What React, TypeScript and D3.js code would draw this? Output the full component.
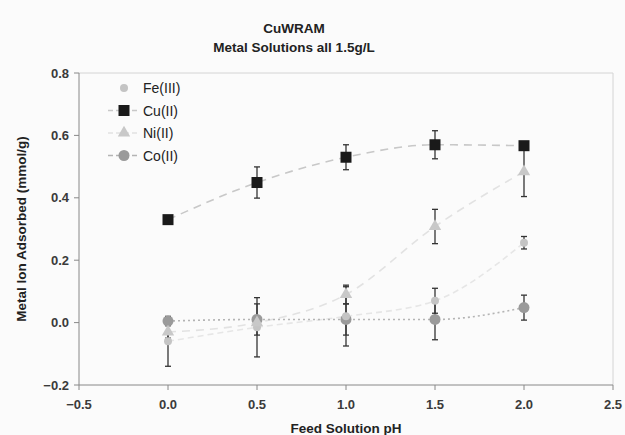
import React from "react"
import * as d3 from "d3"

// pH values along the x axis
const phValues = [0, 0.5, 1.0, 1.5, 2.0]

// adsorbed mmol/g, mean and error half-width
const feMean = [-0.06, -0.015, 0.02, 0.07, 0.256]
const feErr = [0.08, 0.095, 0.095, 0.04, 0.02]
const cuMean = [0.33, 0.449, 0.53, 0.57, 0.567]
const cuErr = [0.01, 0.05, 0.04, 0.045, 0.01]
const niMean = [-0.03, 0.0, 0.09, 0.308, 0.484]
const niErr = [0.02, 0.02, 0.03, 0.055, 0.08]
const coMean = [0.005, 0.01, 0.01, 0.01, 0.048]
const coErr = [0.01, 0.05, 0.05, 0.065, 0.04]

const xTicks = [-0.5, 0, 0.5, 1.0, 1.5, 2.0, 2.5]
const yTicks = [-0.2, 0, 0.2, 0.4, 0.6, 0.8]

const W = 625
const H = 435
const left = 79
const right = 613
const top = 73
const bottom = 385
const font = "'Liberation Sans', Arial, sans-serif"

const x = d3.scaleLinear().domain([-0.5, 2.5]).range([left, right])
const y = d3.scaleLinear().domain([-0.2, 0.8]).range([bottom, top])

const series = [
  { name: "Fe(III)", mean: feMean, err: feErr, shape: "circle", r: 4, fill: "#c4c4c4", line: "#e6e6e6", dash: "6,4", showLine: false },
  { name: "Cu(II)", mean: cuMean, err: cuErr, shape: "square", r: 5.5, fill: "#1a1a1a", line: "#c8c8c8", dash: "8,6", showLine: true },
  { name: "Ni(II)", mean: niMean, err: niErr, shape: "triangle", r: 5.5, fill: "#c8c8c8", line: "#e2e2e2", dash: "8,6", showLine: true },
  { name: "Co(II)", mean: coMean, err: coErr, shape: "circle", r: 5.5, fill: "#9a9a9a", line: "#b4b4b4", dash: "2,3", showLine: true },
]

function Marker({ shape, cx, cy, r, fill }) {
  if (shape === "square")
    return <rect x={cx - r} y={cy - r} width={2 * r} height={2 * r} fill={fill} />
  if (shape === "triangle") {
    const p = d3.symbol(d3.symbolTriangle, r * r * 2.2)()
    return <path d={p} transform={`translate(${cx},${cy})`} fill={fill} />
  }
  return <circle cx={cx} cy={cy} r={r} fill={fill} />
}

export default function App() {
  const line = d3
    .line<number>()
    .x((_, i) => x(phValues[i]))
    .y(d => y(d))
    .curve(d3.curveMonotoneX)

  return (
    <svg
      width={W}
      height={H}
      style={{ position: "absolute", left: 0, top: 0, background: "#fbfbfb" }}
      fontFamily={font}
    >
      <text x={294} y={33} textAnchor="middle" fontSize={13.5} fontWeight="bold" fill="#222">
        CuWRAM
      </text>
      <text x={294} y={52} textAnchor="middle" fontSize={13.5} fontWeight="bold" fill="#222">
        Metal Solutions all 1.5g/L
      </text>

      {/* frame */}
      <line x1={left} x2={right} y1={top} y2={top} stroke="#d4d4d4" />
      <line x1={right} x2={right} y1={top} y2={bottom} stroke="#d4d4d4" />
      <line x1={left} x2={left} y1={top} y2={bottom} stroke="#888" />
      <line x1={left} x2={right} y1={bottom} y2={bottom} stroke="#888" />

      {yTicks.map(t => (
        <g key={t}>
          <line x1={left - 5} x2={left} y1={y(t)} y2={y(t)} stroke="#888" />
          <text x={left - 10} y={y(t) + 4.5} textAnchor="end" fontSize={13} fontWeight="bold" fill="#3a3a3a">
            {d3.format(".1f")(t)}
          </text>
        </g>
      ))}
      {xTicks.map(t => (
        <g key={t}>
          <line x1={x(t)} x2={x(t)} y1={bottom} y2={bottom + 5} stroke="#888" />
          <text x={x(t)} y={bottom + 24} textAnchor="middle" fontSize={13} fontWeight="bold" fill="#3a3a3a">
            {d3.format(".1f")(t)}
          </text>
        </g>
      ))}
      <text x={(left + right) / 2} y={433} textAnchor="middle" fontSize={13.5} fontWeight="bold" fill="#222">
        Feed Solution pH
      </text>
      <text
        transform={`translate(26,${(top + bottom) / 2}) rotate(-90)`}
        textAnchor="middle"
        fontSize={13.5}
        fontWeight="bold"
        fill="#222"
      >
        Metal Ion Adsorbed (mmol/g)
      </text>

      {/* trend lines */}
      {series.map(s => (
        <path
          key={s.name + "l"}
          d={line(s.mean)}
          fill="none"
          stroke={s.line}
          strokeWidth={1.6}
          strokeDasharray={s.dash}
        />
      ))}

      {/* error bars */}
      {series.map(s =>
        s.mean.map((m, i) => {
          const cx = x(phValues[i])
          const y1 = y(m + s.err[i])
          const y2 = y(m - s.err[i])
          return (
            <g key={s.name + i} stroke="#333" strokeWidth={1.3}>
              <line x1={cx} x2={cx} y1={y1} y2={y2} />
              <line x1={cx - 3} x2={cx + 3} y1={y1} y2={y1} />
              <line x1={cx - 3} x2={cx + 3} y1={y2} y2={y2} />
            </g>
          )
        })
      )}

      {/* markers, drawn light to dark */}
      {[3, 0, 2, 1].map(k => {
        const s = series[k]
        return s.mean.map((m, i) => (
          <Marker key={s.name + "m" + i} shape={s.shape} cx={x(phValues[i])} cy={y(m)} r={s.r} fill={s.fill} />
        ))
      })}

      {/* legend */}
      {series.map((s, i) => {
        const ly = 88 + i * 22.5
        return (
          <g key={s.name + "leg"}>
            {s.showLine && (
              <line x1={108} x2={140} y1={ly} y2={ly} stroke={s.line} strokeWidth={1.6} strokeDasharray="5,3" />
            )}
            <Marker shape={s.shape} cx={124} cy={ly} r={s.r} fill={s.fill} />
            <text x={143} y={ly + 5} fontSize={14} fill="#222">
              {s.name}
            </text>
          </g>
        )
      })}
    </svg>
  )
}
